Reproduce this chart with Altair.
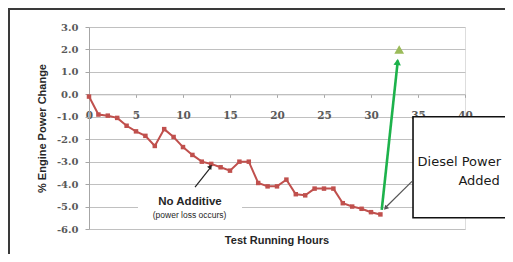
import altair as alt
import pandas as pd

# ---- data ----
hours = list(range(0, 32))
power_change = [-0.1, -0.9, -0.95, -1.05, -1.4, -1.65, -1.85, -2.3, -1.55, -1.9,
                -2.35, -2.7, -3.0, -3.1, -3.25, -3.4, -3.0, -3.0, -3.95, -4.1,
                -4.1, -3.8, -4.45, -4.5, -4.2, -4.2, -4.2, -4.85, -5.0, -5.1,
                -5.25, -5.35]
diesel_hours = [33]
diesel_change = [2.0]

x_ticks = [0, 5, 10, 15, 20, 25, 30, 35, 40]
y_ticks = [-6, -5, -4, -3, -2, -1, 0, 1, 2, 3]
x_title = "Test Running Hours"
y_title = "% Engine Power Change"

# annotation anchors (data coordinates)
no_add_text = ["No Additive", "(power loss occurs)"]
no_add_x = [10.74, 10.7]
no_add_y = [-4.78, -5.38]
callout_text = ["Diesel Power", "Added"]
callout_x = [34.95, 39.3]
callout_y = [-3.01, -3.86]

W, H = 376, 202

X_AX = alt.Axis(values=x_ticks, format="d", grid=False, offset=-134.67,
                domainColor="#bfbfbf", tickColor="#a6a6a6", tickSize=3,
                labelPadding=18, labelBaseline="middle", labelFlush=False,
                labelFont="DejaVu Serif", labelFontSize=10.5, labelFontWeight="bold",
                labelColor="#595959", title=None)
Y_AX = alt.Axis(values=y_ticks,
                labelExpr="(datum.value < 0 ? '-' : '') + format(abs(datum.value), '.1f')",
                grid=True, gridColor="#c0c0c0", gridWidth=1,
                domainColor="#a6a6a6", tickColor="#a6a6a6", tickSize=4,
                labelPadding=7, labelFont="DejaVu Serif", labelFontSize=10,
                labelFontWeight="bold", labelColor="#595959",
                title=y_title, titleFont="Liberation Sans",
                titleFontSize=11, titleFontWeight="bold", titleColor="#262626",
                titlePadding=9)
XS = alt.Scale(domain=[0, 40], nice=False, zero=False)
YS = alt.Scale(domain=[-6, 3], nice=False, zero=False)


def X(f):
    return alt.X(f, type="quantitative", scale=XS, axis=X_AX)


def Y(f):
    return alt.Y(f, type="quantitative", scale=YS, axis=Y_AX)


# white background behind "No Additive" label
bg = alt.Chart(pd.DataFrame({"x": [5.21], "x2": [16.28], "y": [-4.26], "y2": [-5.82]})).mark_rect(
    color="white").encode(x=X("x"), x2="x2", y=Y("y"), y2="y2")

# callout box
box = alt.Chart(pd.DataFrame({"x": [34.47], "x2": [46.0], "y": [-1.0], "y2": [-5.5]})).mark_rect(
    fill="white", stroke="#111111", strokeWidth=1.6).encode(x=X("x"), x2="x2", y=Y("y"), y2="y2")

df = pd.DataFrame({"x": hours, "y": power_change})
line = alt.Chart(df).mark_line(
    color="#c0504d", strokeWidth=2,
    point=alt.OverlayMarkDef(shape="square", size=20, filled=True, color="#c0504d"),
).encode(x=X("x"), y=Y("y"))

# arrows
arrows = pd.DataFrame({
    "x": [31.14, 34.36, 11.28],
    "y": [-5.15, -3.88, -4.13],
    "x2": [32.85, 31.6, 12.9],
    "y2": [1.5, -5.02, -3.28],
    "hx": [32.82, 31.55, 12.93],
    "hy": [1.44, -5.07, -3.22],
    "ang": [6, 224, 37],
    "c": ["#1db24b", "#555555", "#222222"],
    "w": [2.6, 1.2, 1.2],
    "s": [55, 28, 28],
})
arrow_lines = alt.Chart(arrows).mark_rule().encode(
    x=X("x"), y=Y("y"), x2="x2", y2="y2",
    color=alt.Color("c:N", scale=None), strokeWidth=alt.StrokeWidth("w:Q", scale=None))
arrow_heads = alt.Chart(arrows).mark_point(shape="triangle-up", filled=True, opacity=1).encode(
    x=X("hx"), y=Y("hy"), angle=alt.Angle("ang:Q", scale=None),
    color=alt.Color("c:N", scale=None), size=alt.Size("s:Q", scale=None))

tri = alt.Chart(pd.DataFrame({"x": diesel_hours, "y": diesel_change})).mark_point(
    shape="triangle-up", filled=True, size=95, color="#9bbb59", opacity=1).encode(x=X("x"), y=Y("y"))

t1 = alt.Chart(pd.DataFrame({"x": no_add_x[:1], "y": no_add_y[:1], "t": no_add_text[:1]})).mark_text(
    font="Liberation Sans", fontSize=11.5, fontWeight="bold", color="#262626").encode(
    x=X("x"), y=Y("y"), text="t:N")
t2 = alt.Chart(pd.DataFrame({"x": no_add_x[1:], "y": no_add_y[1:], "t": no_add_text[1:]})).mark_text(
    font="Liberation Sans", fontSize=8.5, color="#262626").encode(
    x=X("x"), y=Y("y"), text="t:N")
t3 = alt.Chart(pd.DataFrame({"x": callout_x, "y": callout_y, "t": callout_text})).mark_text(
    font="DejaVu Sans", fontSize=13, align="left", color="#1a1a1a").encode(
    x=X("x"), y=Y("y"), text="t:N")

# x-axis title as text under the plot
xt = alt.Chart(pd.DataFrame({"t": [x_title]})).mark_text(
    font="Liberation Sans", fontSize=11, fontWeight="bold", color="#262626", baseline="middle").encode(
    x=alt.value(W / 2), y=alt.value(H + 12), text="t:N")

# outer frame (decoration)
frame_top = alt.Chart(pd.DataFrame({"a": [0]})).mark_rule(color="#3a3a3a", strokeWidth=2).encode(
    x=alt.value(-81), x2=alt.value(420), y=alt.value(-18))
frame_left = alt.Chart(pd.DataFrame({"a": [0]})).mark_rule(color="#3a3a3a", strokeWidth=2).encode(
    x=alt.value(-80), y=alt.value(-19), y2=alt.value(240))

chart = alt.layer(
    bg, box, line, arrow_lines, arrow_heads, tri, t1, t2, t3, xt, frame_top, frame_left
).properties(
    width=W, height=H,
    autosize=alt.AutoSizeParams(type="none"),
    padding={"left": 81, "top": 19, "right": 40, "bottom": 25},
).configure_view(stroke="#a6a6a6", strokeWidth=1).configure(background="white")

chart.save("out.html", embed_options={"renderer": "svg", "actions": False})
